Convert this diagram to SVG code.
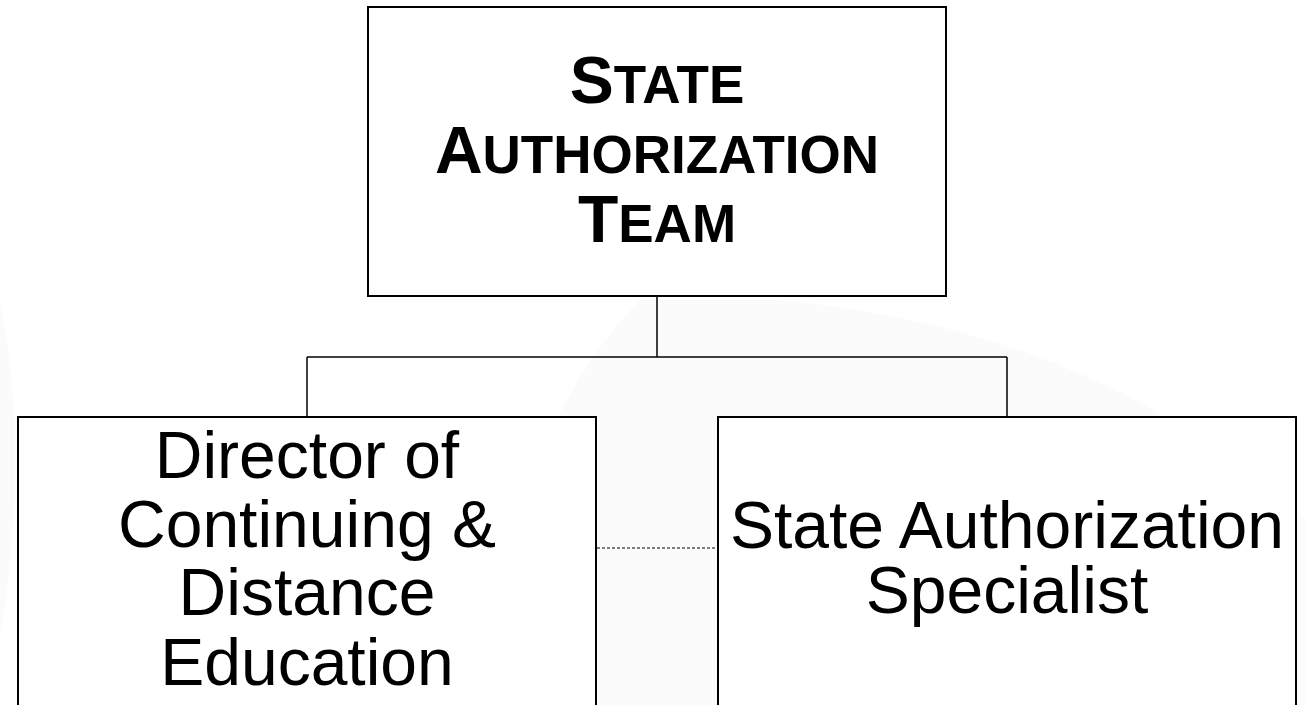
<svg xmlns="http://www.w3.org/2000/svg" width="1306" height="705" viewBox="0 0 1306 705">
  <style>
    .box { fill: #ffffff; stroke: #000000; stroke-width: 2; }
    .conn { fill: none; stroke: #000000; stroke-width: 1.5; }
    .dash { fill: none; stroke: #000000; stroke-width: 1; stroke-dasharray: 3 2; }
    .title { font-family: "Liberation Sans", Arial, sans-serif; font-weight: bold; font-size: 66px; fill: #000000; text-anchor: middle; }
    .sc { font-size: 53px; }
    .label { font-family: "Liberation Sans", Arial, sans-serif; font-size: 66px; fill: #000000; text-anchor: middle; }
  </style>
  <rect x="0" y="0" width="1306" height="705" fill="#ffffff"/>
  <g id="background">
    <path d="M 470 705 Q 520 420 640 300 L 780 300 Q 1100 330 1306 520 L 1306 705 Z" fill="#fbfbfb"/>
    <path d="M 0 300 Q 30 450 0 640 Z" fill="#fbfbfb"/>
  </g>
  <g id="connectors">
    <line class="conn" x1="657" y1="296" x2="657" y2="357"/>
    <line class="conn" x1="307" y1="357" x2="1007" y2="357"/>
    <line class="conn" x1="307" y1="357" x2="307" y2="417"/>
    <line class="conn" x1="1007" y1="357" x2="1007" y2="417"/>
    <line class="dash" x1="597" y1="548" x2="718" y2="548"/>
  </g>
  <g id="node-team">
    <rect class="box" x="368" y="7" width="578" height="289"/>
    <text class="title" x="657" y="103">S<tspan class="sc">TATE</tspan></text>
    <text class="title" x="657" y="173">A<tspan class="sc">UTHORIZATION</tspan></text>
    <text class="title" x="657" y="242">T<tspan class="sc">EAM</tspan></text>
  </g>
  <g id="node-director">
    <rect class="box" x="18" y="417" width="578" height="295"/>
    <text class="label" x="307" y="478">Director of</text>
    <text class="label" x="307" y="547">Continuing &amp;</text>
    <text class="label" x="307" y="615">Distance</text>
    <text class="label" x="307" y="685">Education</text>
  </g>
  <g id="node-specialist">
    <rect class="box" x="718" y="417" width="578" height="295"/>
    <text class="label" x="1007" y="548">State Authorization</text>
    <text class="label" x="1007" y="613">Specialist</text>
  </g>
</svg>
